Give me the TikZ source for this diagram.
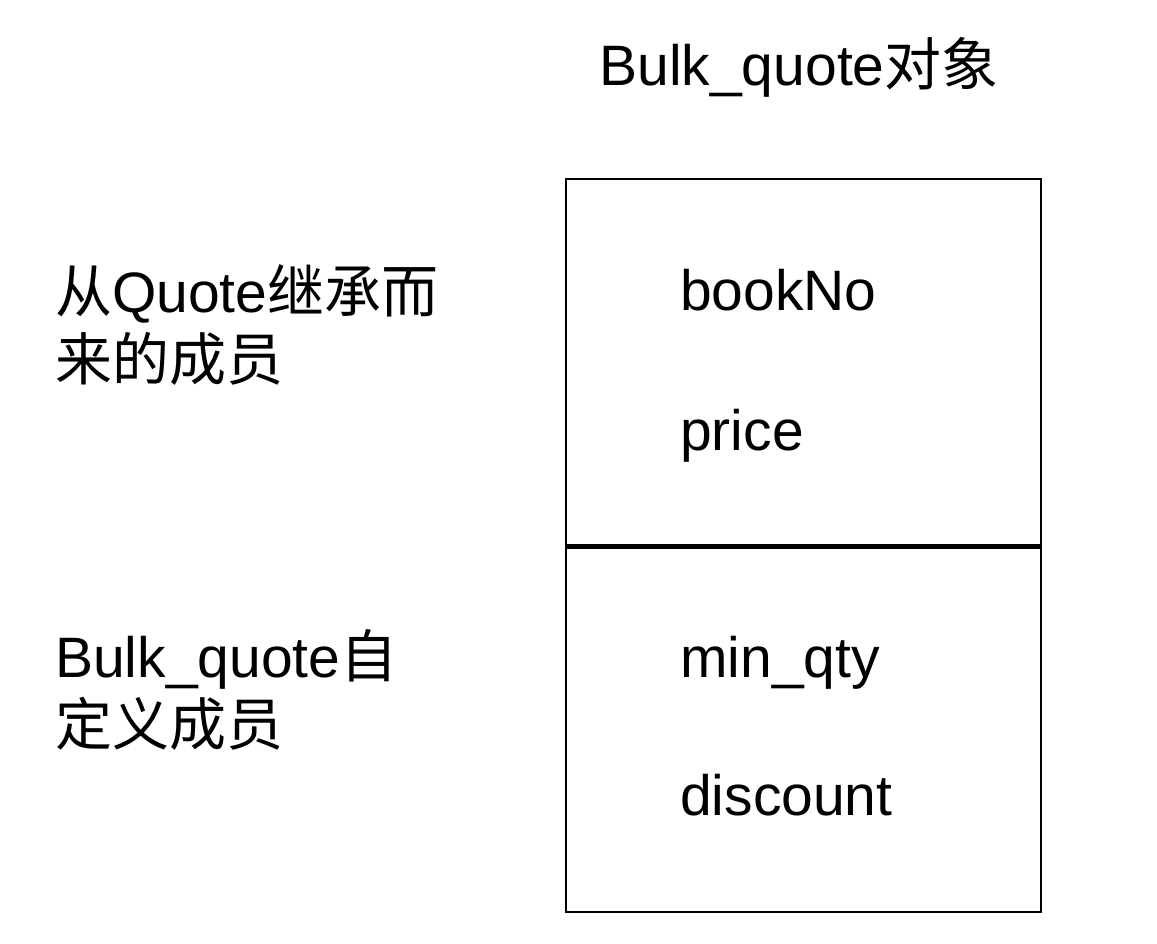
\documentclass[tikz,border=0pt]{standalone}
\usepackage{fontspec}
\setmainfont{Liberation Sans}
\newfontfamily\cjk{Noto Sans CJK SC}
\usetikzlibrary{positioning}

\begin{document}
\begin{tikzpicture}[
  x=1pt, y=-1pt,
  font=\fontsize{57}{68}\selectfont,
  lbl/.style={anchor=base west, inner sep=0pt, align=left},
  member/.style={anchor=base west, inner sep=0pt},
  frame/.style={draw, line width=2pt}
]
  \useasboundingbox (0,0) rectangle (1157,943);
  % object box
  \node[frame, minimum width=475pt, minimum height=367pt, inner sep=0pt, anchor=north west] (base) at (565,178) {};
  \node[frame, minimum width=475pt, minimum height=367pt, inner sep=0pt, anchor=north west] (derived) at (565,544) {};
  \draw[line width=3pt] (base.south west) -- (base.south east);
  \node[anchor=base, inner sep=0pt] (title) at (799,85) {Bulk\_quote{\cjk 对象}};
  % members
  \node[member] (bookno) at (680,310) {bookNo};
  \node[member] (price) at (680,450) {price};
  \node[member] (minqty) at (680,677) {min\_qty};
  \node[member] (discount) at (680,815) {discount};
  % side labels
  \node[lbl] (inherited) at (55,380) {{\cjk 从}Quote{\cjk 继承而}\\{\cjk 来的成员}};
  \node[lbl] (own) at (55,745) {Bulk\_quote{\cjk 自}\\{\cjk 定义成员}};
\end{tikzpicture}
\end{document}
